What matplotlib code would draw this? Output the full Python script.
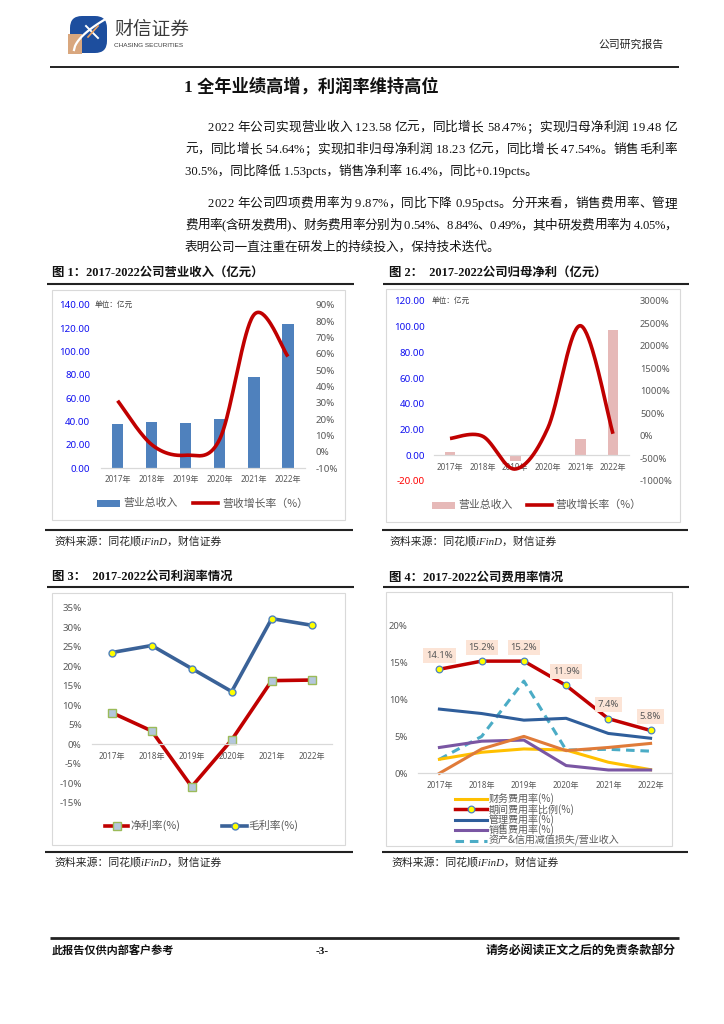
import numpy as np
import matplotlib
matplotlib.use('Agg')
import matplotlib.pyplot as plt
from matplotlib.patches import Rectangle, FancyBboxPatch, Polygon

# ---------------- data ----------------
years = ['2017年', '2018年', '2019年', '2020年', '2021年', '2022年']

revenue = [38.0, 39.8, 38.9, 42.6, 78.2, 123.58]            # 营业总收入 (亿元)
revenue_growth = [31.4, 4.5, -2.0, 8.0, 84.0, 58.47]          # 营收增长率 (%)

profit = [2.1, 0.3, -4.4, 0.3, 12.3, 97.5]                    # 图2 bars (亿元)
profit_growth = [-60, -10, -740, 170, 2450, 45]               # 图2 line (%)

net_margin = [8.1, 3.4, -10.9, 1.1, 16.3, 16.45]              # 净利率(%)
gross_margin = [23.5, 25.3, 19.4, 13.5, 32.2, 30.5]           # 毛利率(%)

fin_rate = [1.9, 2.85, 3.3, 3.15, 1.5, 0.49]                  # 财务费用率(%)
period_rate = [14.1, 15.2, 15.2, 11.9, 7.4, 5.8]              # 期间费用率比例(%)
mgmt_rate = [8.7, 8.1, 7.2, 7.45, 5.4, 4.75]                  # 管理费用率(%)
sales_rate = [3.5, 4.35, 4.5, 1.05, 0.45, 0.45]               # 销售费用率(%)
rd_rate = [0.0, 3.3, 5.0, 3.07, 3.5, 4.05]                    # 研发费用率(%)
impair_rate = [1.9, 5.0, 12.5, 3.15, 3.25, 3.0]               # 资产&信用减值损失/营业收入

left1_ticks = [0, 20, 40, 60, 80, 100, 120, 140]
right1_ticks = [-10, 0, 10, 20, 30, 40, 50, 60, 70, 80, 90]
left2_ticks = [-20, 0, 20, 40, 60, 80, 100, 120]
right2_ticks = [-1000, -500, 0, 500, 1000, 1500, 2000, 2500, 3000]
y3_ticks = [-15, -10, -5, 0, 5, 10, 15, 20, 25, 30, 35]
y4_ticks = [0, 5, 10, 15, 20]

# ---------------- fonts ----------------
CJK = 'Noto Sans CJK SC'
SANS = ['Noto Sans', CJK]
SERIF = ['Liberation Serif', CJK]
plt.rcParams['font.family'] = SANS
plt.rcParams['axes.unicode_minus'] = False

W, H = 724, 1024
fig = plt.figure(figsize=(W / 100, H / 100), dpi=100)
renderer = fig.canvas.get_renderer()

page = fig.add_axes([0, 0, 1, 1])
page.set_xlim(0, W)
page.set_ylim(H, 0)
page.axis('off')


def ax_px(x0, y0, x1, y1):
    return fig.add_axes([x0 / W, 1 - y1 / H, (x1 - x0) / W, (y1 - y0) / H])


def hline(x0, x1, y, lw=1.2, color='#222222'):
    page.plot([x0, x1], [y, y], color=color, lw=lw, solid_capstyle='butt')


def box(x0, y0, x1, y1):
    page.add_patch(Rectangle((x0, y0), x1 - x0, y1 - y0, fill=False,
                             ec='#D9D9D9', lw=0.8))


def justified(x0, x1, y, s, **kw):
    widths = []
    for c in s:
        t = page.text(0, 0, c, **kw)
        widths.append(t.get_window_extent(renderer).width)
        t.remove()
    extra = (x1 - x0 - sum(widths)) / (len(s) - 1)
    xp = x0
    for c, w in zip(s, widths):
        page.text(xp, y, c, va='center', **kw)
        xp += w + extra


def smooth(xs, ys, n=40):
    pts = np.column_stack([xs, ys]).astype(float)
    P = np.vstack([pts[0], pts, pts[-1]])
    out = []
    t = np.linspace(0, 1, n)[:, None]
    for i in range(1, len(P) - 2):
        p0, p1, p2, p3 = P[i - 1], P[i], P[i + 1], P[i + 2]
        seg = 0.5 * ((2 * p1) + (-p0 + p2) * t + (2 * p0 - 5 * p1 + 4 * p2 - p3) * t ** 2
                     + (-p0 + 3 * p1 - 3 * p2 + p3) * t ** 3)
        out.append(seg if i == 1 else seg[1:])
    s = np.vstack(out)
    return s[:, 0], s[:, 1]


def style_axes(ax, bottom_at_zero=False):
    for sp in ['top', 'right', 'left']:
        ax.spines[sp].set_visible(False)
    ax.spines['bottom'].set_color('#D9D9D9')
    ax.spines['bottom'].set_linewidth(0.9)
    if bottom_at_zero:
        ax.spines['bottom'].set_position(('data', 0))
    ax.set_facecolor('none')
    ax.tick_params(length=0)


# ---------------- header ----------------
page.add_patch(FancyBboxPatch((70, 16), 37, 37, boxstyle='round,pad=0,rounding_size=12',
                              fc='#1D4E9E', ec='none'))
page.add_patch(Polygon([[68, 34], [82, 34], [82, 54], [68, 54]], closed=True,
                       fc='#D9A77E', ec='none'))
tt = np.linspace(0, 1, 30)
page.plot(74 + 30 * tt, 50 - 30 * tt ** 0.6, color='white', lw=1.6)
page.plot([86, 98], [26, 38], color='white', lw=1.4)
page.plot([98, 88], [26, 37], color='#E8A060', lw=1.2)
page.text(114, 29, '财信证券', fontsize=13.5, family=CJK, color='#3A3A3A', va='center')
page.text(114, 45.5, 'CHASING SECURITIES', fontsize=4.6, family='Liberation Sans',
          color='#3A3A3A', va='center')
page.text(598, 45, '公司研究报告', fontsize=7.8, family=CJK, color='#222222', va='center')
hline(50, 679, 67, lw=1.4)

page.text(184, 87, '1 全年业绩高增，利润率维持高位', fontsize=12.4, family=SERIF,
          weight='bold', va='center', color='#111111')

body_kw = dict(fontsize=9.1, family=SERIF, color='#111111')
justified(208, 677, 128, '2022 年公司实现营业收入 123.58 亿元，同比增长 58.47%；实现归母净利润 19.48 亿', **body_kw)
justified(185, 677, 150, '元，同比增长 54.64%；实现扣非归母净利润 18.23 亿元，同比增长 47.54%。销售毛利率', **body_kw)
page.text(185, 171, '30.5%，同比降低 1.53pcts，销售净利率 16.4%，同比+0.19pcts。', va='center', **body_kw)
justified(208, 677, 204, '2022 年公司四项费用率为 9.87%，同比下降 0.95pcts。分开来看，销售费用率、管理', **body_kw)
justified(185, 677, 226, '费用率(含研发费用)、财务费用率分别为 0.54%、8.84%、0.49%，其中研发费用率为 4.05%，', **body_kw)
page.text(185, 247, '表明公司一直注重在研发上的持续投入，保持技术迭代。', va='center', **body_kw)

# captions
cap_kw = dict(fontsize=8.9, family=SERIF, weight='bold', va='center', color='#111111')
page.text(52, 273, '图 1：2017-2022公司营业收入（亿元）', **cap_kw)
page.text(389, 273, '图 2：  2017-2022公司归母净利（亿元）', **cap_kw)
page.text(52, 577, '图 3：  2017-2022公司利润率情况', **cap_kw)
page.text(389, 578, '图 4：2017-2022公司费用率情况', **cap_kw)
hline(47, 354, 283.5, lw=1.5)
hline(383, 689, 283.5, lw=1.5)
hline(47, 354, 587, lw=1.5)
hline(383, 689, 587, lw=1.5)

# sources
src_kw = dict(fontsize=7.8, family=SERIF, style='italic', va='center', color='#222222')
hline(45, 353, 530, lw=1.5)
hline(382, 688, 530, lw=1.5)
page.text(54, 541, '资料来源：同花顺iFinD，财信证券', **src_kw)
page.text(389, 541, '资料来源：同花顺iFinD，财信证券', **src_kw)
hline(45, 353, 852, lw=1.5)
hline(382, 688, 852, lw=1.5)
page.text(54, 862, '资料来源：同花顺iFinD，财信证券', **src_kw)
page.text(391, 862, '资料来源：同花顺iFinD，财信证券', **src_kw)

# footer
hline(50, 679, 938, lw=2.0)
foot_kw = dict(family=SERIF, weight='bold', va='center', color='#111111')
page.text(52, 951, '此报告仅供内部客户参考', fontsize=8.0, **foot_kw)
page.text(322, 951, '-3-', ha='center', fontsize=8.0, **foot_kw)
page.text(676, 951, '请务必阅读正文之后的免责条款部分', ha='right', fontsize=8.6, **foot_kw)

# chart boxes
box(52, 290, 345, 520)
box(386, 289, 680, 522)
box(52, 593, 345, 845)
box(386, 592, 672, 846)

x = np.arange(len(years))
RED = '#C00000'
GRAY = '#595959'

# ---------------- chart 1 ----------------
ax1 = ax_px(100.6, 305, 305, 468.3)
style_axes(ax1)
ax1.bar(x, revenue, width=0.33, color='#4F81BD', zorder=2)
ax1.set_xlim(-0.5, 5.5)
ax1.set_ylim(0, 140)
ax1.set_yticks(left1_ticks)
ax1.set_yticklabels([f'{v:.2f}' for v in left1_ticks], color='#1010F0', fontsize=7)
ax1.set_xticks(x)
ax1.set_xticklabels(years, color=GRAY, fontsize=5.8)
ax1.tick_params(axis='y', pad=7.5)
ax1.tick_params(axis='x', pad=5)
ax1b = ax1.twinx()
for sp in ax1b.spines.values():
    sp.set_visible(False)
ax1b.set_ylim(-10, 90)
ax1b.set_yticks(right1_ticks)
ax1b.set_yticklabels([f'{v}%' for v in right1_ticks], color=GRAY, fontsize=7)
ax1b.tick_params(length=0, pad=7.5)
sx, sy = smooth(x, revenue_growth)
ax1b.plot(sx, sy, color=RED, lw=2.6, solid_capstyle='butt')
page.text(95, 305, '单位：亿元', fontsize=5.5, family=CJK, color='#404040', va='center')
page.add_patch(Rectangle((97, 500), 23, 6.5, fc='#4F81BD', ec='none'))
page.text(123, 503.3, '营业总收入', fontsize=7.8, family=CJK, color=GRAY, va='center')
page.plot([193, 218], [503.3, 503.3], color=RED, lw=2.6)
page.text(222, 503.3, '营收增长率（%）', fontsize=7.8, family=CJK, color=GRAY, va='center')

# ---------------- chart 2 ----------------
ax2 = ax_px(433.7, 301, 629.3, 480.7)
style_axes(ax2, bottom_at_zero=True)
ax2.bar(x, profit, width=0.33, color='#E6B9B8', zorder=2)
ax2.set_xlim(-0.5, 5.5)
ax2.set_ylim(-20, 120)
ax2.set_yticks(left2_ticks)
ax2.set_yticklabels([f'{v:.2f}' for v in left2_ticks], fontsize=7)
for lab, v in zip(ax2.get_yticklabels(), left2_ticks):
    lab.set_color('#FF0000' if v < 0 else '#1010F0')
ax2.set_xticks(x)
ax2.set_xticklabels(years, color=GRAY, fontsize=5.8)
ax2.tick_params(axis='y', pad=6.3)
ax2.tick_params(axis='x', pad=5.5)
ax2b = ax2.twinx()
for sp in ax2b.spines.values():
    sp.set_visible(False)
ax2b.set_ylim(-1000, 3000)
ax2b.set_yticks(right2_ticks)
ax2b.set_yticklabels([f'{v}%' for v in right2_ticks], color=GRAY, fontsize=6.8)
ax2b.tick_params(length=0, pad=7.7)
sx, sy = smooth(x, profit_growth)
ax2b.plot(sx, sy, color=RED, lw=2.6, solid_capstyle='butt')
page.text(432, 301, '单位：亿元', fontsize=5.5, family=CJK, color='#404040', va='center')
page.add_patch(Rectangle((432, 502), 23, 6.5, fc='#E6B9B8', ec='none'))
page.text(458, 505, '营业总收入', fontsize=7.8, family=CJK, color=GRAY, va='center')
page.plot([527, 552], [505, 505], color=RED, lw=2.6)
page.text(555, 505, '营收增长率（%）', fontsize=7.8, family=CJK, color=GRAY, va='center')

# ---------------- chart 3 ----------------
ax3 = ax_px(91.7, 607.7, 331.7, 802.7)
style_axes(ax3, bottom_at_zero=True)
ax3.set_xlim(-0.5, 5.5)
ax3.set_ylim(-15, 35)
ax3.set_yticks(y3_ticks)
ax3.set_yticklabels([f'{v}%' for v in y3_ticks], color=GRAY, fontsize=7)
ax3.set_xticks(x)
ax3.set_xticklabels(years, color=GRAY, fontsize=5.8)
ax3.tick_params(axis='y', pad=7.2)
ax3.tick_params(axis='x', pad=5.5)
net_kw = dict(color=RED, lw=2.6, marker='s', ms=5.5, mfc='#B4C7DC', mec='#9BBB59', mew=1.0)
gross_kw = dict(color='#3A6298', lw=2.6, marker='o', ms=5, mfc='#FFFF00', mec='#4F81BD', mew=1.0)
ax3.plot(x, net_margin, **net_kw)
ax3.plot(x, gross_margin, **gross_kw)
page.plot([105, 128], [825.7, 825.7], **net_kw, markevery=[])
page.plot([116.5], [825.7], linestyle='none', marker='s', ms=5.5, mfc='#B4C7DC',
          mec='#9BBB59', mew=1.0)
page.text(130, 825.7, '净利率(%)', fontsize=7.8, family=CJK, color=GRAY, va='center')
page.plot([222, 247], [825.7, 825.7], **gross_kw, markevery=[])
page.plot([234.5], [825.7], linestyle='none', marker='o', ms=5, mfc='#FFFF00',
          mec='#4F81BD', mew=1.0)
page.text(248, 825.7, '毛利率(%)', fontsize=7.8, family=CJK, color=GRAY, va='center')

# ---------------- chart 4 ----------------
ax4 = ax_px(418.3, 625.7, 671.7, 773.3)
style_axes(ax4)
ax4.set_xlim(-0.5, 5.5)
ax4.set_ylim(0, 20)
ax4.set_yticks(y4_ticks)
ax4.set_yticklabels([f'{v}%' for v in y4_ticks], color=GRAY, fontsize=6.8)
ax4.set_xticks(x)
ax4.set_xticklabels(years, color=GRAY, fontsize=5.8)
ax4.tick_params(axis='y', pad=7.6)
ax4.tick_params(axis='x', pad=5.5)
c_imp = '#4BACC6'
c_fin = '#FFC000'
c_mgmt = '#2F5E9B'
c_sales = '#7A56A3'
c_rd = '#E07B39'
imp_kw = dict(color=c_imp, lw=2.2, linestyle=(0, (2.8, 1.9)))
ax4.plot(x, impair_rate, clip_on=False, **imp_kw)
ax4.plot(x, fin_rate, color=c_fin, lw=2.2, clip_on=False)
ax4.plot(x, mgmt_rate, color=c_mgmt, lw=2.2, clip_on=False)
ax4.plot(x, sales_rate, color=c_sales, lw=2.2, clip_on=False)
ax4.plot(x, rd_rate, color=c_rd, lw=2.2, clip_on=False)
per_kw = dict(color=RED, lw=2.5, marker='o', ms=4.8, mfc='#FFFF00', mec='#4F81BD', mew=0.9)
ax4.plot(x, period_rate, clip_on=False, **per_kw)
for xi, v in zip(x, period_rate):
    ax4.annotate(f'{v:.1f}%', (xi, v), xytext=(0, 10), textcoords='offset points',
                 ha='center', va='center', fontsize=6.8, color=GRAY,
                 bbox=dict(boxstyle='square,pad=0.3', fc='#FCE4D6', ec='none'))
leg_rows = [799, 809.3, 819.7, 830, 840.7]
leg_kw = dict(fontsize=7.2, family=CJK, color=GRAY, va='center')
page.plot([455, 487], [leg_rows[0]] * 2, color=c_fin, lw=2.2)
page.text(489, leg_rows[0], '财务费用率(%)', **leg_kw)
page.plot([455, 487], [leg_rows[1]] * 2, color=RED, lw=2.5)
page.plot([471], [leg_rows[1]], linestyle='none', marker='o', ms=4.8, mfc='#FFFF00',
          mec='#4F81BD', mew=0.9)
page.text(489, leg_rows[1], '期间费用率比例(%)', **leg_kw)
page.plot([455, 487], [leg_rows[2]] * 2, color=c_mgmt, lw=2.2)
page.text(489, leg_rows[2], '管理费用率(%)', **leg_kw)
page.plot([455, 487], [leg_rows[3]] * 2, color=c_sales, lw=2.2)
page.text(489, leg_rows[3], '销售费用率(%)', **leg_kw)
page.plot([455, 487], [leg_rows[4]] * 2, **imp_kw)
page.text(489, leg_rows[4], '资产&信用减值损失/营业收入', **leg_kw)

fig.savefig('out.png', dpi=100)
